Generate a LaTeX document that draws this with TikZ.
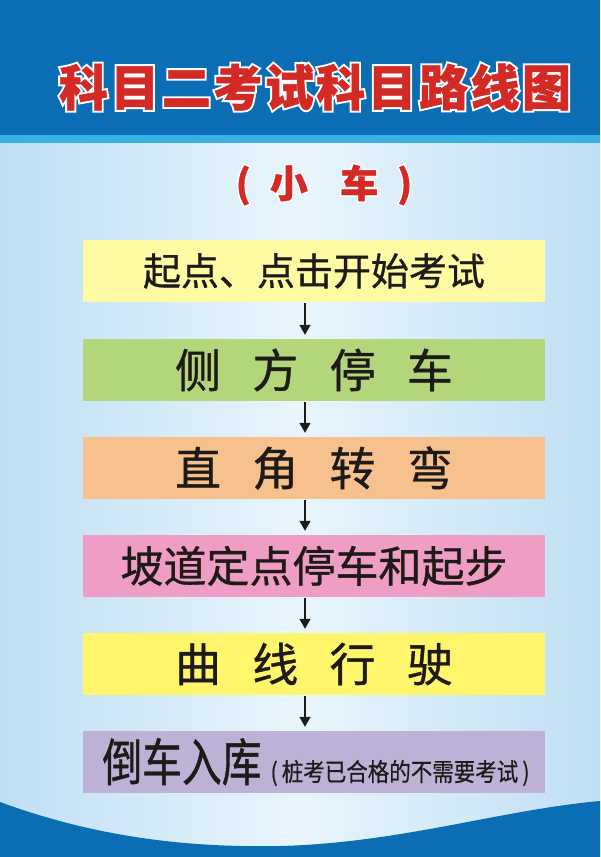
\documentclass[tikz,border=0pt]{standalone}
\usepackage{fontspec}
\setmainfont{Noto Sans CJK SC}[FakeBold=0.8]
\newfontfamily\titlefont{Noto Sans CJK SC}[BoldFeatures={FakeBold=1, LetterSpace=5}]
\newfontfamily\halofont{Noto Sans CJK SC}[BoldFeatures={FakeBold=9, LetterSpace=5}]
\newfontfamily\narrowfont{Noto Sans CJK SC}[FakeStretch=0.78, FakeBold=0.8]
\newfontfamily\notefont{Noto Sans CJK SC}[FakeStretch=0.86, FakeBold=0.5]
\usetikzlibrary{arrows.meta}
\definecolor{bandblue}{HTML}{0B6EB4}
\definecolor{stripblue}{HTML}{3AAFE3}
\definecolor{bgedge}{HTML}{BFDFF4}
\definecolor{bgmid}{HTML}{E9F5FC}
\definecolor{titlered}{HTML}{D42A26}
\definecolor{inkblack}{HTML}{1E1A17}
\definecolor{boxa}{HTML}{FFFBA5}
\definecolor{boxb}{HTML}{B3D67A}
\definecolor{boxc}{HTML}{F7C18D}
\definecolor{boxd}{HTML}{EF9DC4}
\definecolor{boxe}{HTML}{FFF66C}
\definecolor{boxf}{HTML}{BDB2D6}
\newcommand{\gap}{\hspace{0.68em}}
\newcommand{\fsz}[1]{\fontsize{#1}{#1}\selectfont}

\begin{document}
\begin{tikzpicture}[x=1pt, y=-1pt,
    stepbox/.style={minimum width=462pt, minimum height=62pt, inner sep=0pt, text=inkblack},
    flow/.style={line width=1.5pt, inkblack, -{Triangle[width=11pt,length=10pt]}, shorten <=1pt, shorten >=4pt}]
    \useasboundingbox (0, 0) rectangle (600, 857);

    \shade[left color=bgedge, right color=bgedge, middle color=bgmid] (0, 143) rectangle (600, 857);
    \fill[bandblue] (0, 0) rectangle (600, 135);
    \fill[stripblue] (0, 135) rectangle (600, 143);
    \fill[bandblue] (0, 802) .. controls (90, 835) and (180, 848) .. (280, 846)
        .. controls (400, 843) and (500, 810) .. (600, 801) -- (600, 857) -- (0, 857) -- cycle;

    \node[stepbox, fill=boxa] (s1) at (314, 271) {\fsz{38}起点、点击开始考试};
    \node[stepbox, fill=boxb] (s2) at (314, 370) {\fsz{46}侧\gap 方\gap 停\gap 车};
    \node[stepbox, fill=boxc] (s3) at (314, 468) {\fsz{46}直\gap 角\gap 转\gap 弯};
    \node[stepbox, fill=boxd] (s4) at (314, 566) {\fsz{43}坡道定点停车和起步};
    \node[stepbox, fill=boxe] (s5) at (314, 664) {\fsz{46}曲\gap 线\gap 行\gap 驶};
    \node[stepbox, fill=boxf] (s6) at (314, 762) {};
    \node[text=inkblack, inner sep=0pt] (s6t) at (316, 762) {\narrowfont\fsz{51}倒车入库\notefont\fsz{25}\kern9pt(\kern4pt 桩考已合格的不需要考试\kern4pt)};

    \draw[flow] ([xshift=-9pt]s1.south) -- ([xshift=-9pt]s2.north);
    \draw[flow] ([xshift=-9pt]s2.south) -- ([xshift=-9pt]s3.north);
    \draw[flow] ([xshift=-9pt]s3.south) -- ([xshift=-9pt]s4.north);
    \draw[flow] ([xshift=-9pt]s4.south) -- ([xshift=-9pt]s5.north);
    \draw[flow] ([xshift=-9pt]s5.south) -- ([xshift=-9pt]s6.north);

    \node[white, font=\halofont\bfseries\fsz{49}] (t0) at (315, 87) {科目二考试科目路线图};
    \node[titlered, font=\titlefont\bfseries\fsz{49}] (t1) at (315, 87) {科目二考试科目路线图};
    \node[white, font=\halofont\bfseries\fsz{38}] (u0) at (324, 185) {(\kern0.5em 小\kern0.85em 车\kern0.5em)};
    \node[titlered, font=\titlefont\bfseries\fsz{38}] (u1) at (324, 185) {(\kern0.5em 小\kern0.85em 车\kern0.5em)};
\end{tikzpicture}
\end{document}
